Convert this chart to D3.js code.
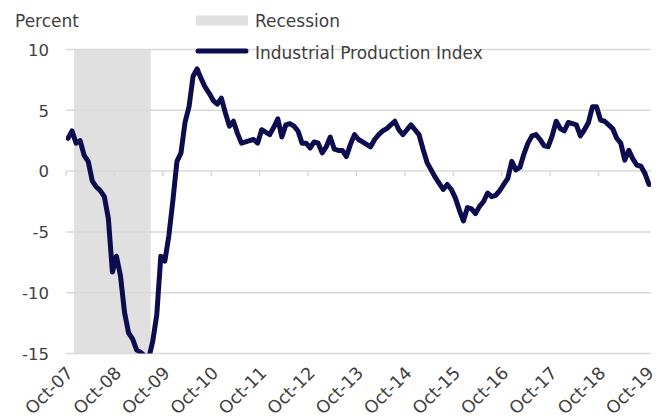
<!DOCTYPE html>
<html>
<head>
<meta charset="utf-8">
<script src="https://cdn.jsdelivr.net/npm/d3@7"></script>
<style>
  body { margin: 0; background: #fff; }
  svg text { font-family: "DejaVu Sans", sans-serif; fill: #404040; }
</style>
</head>
<body>
<svg id="chart" width="661" height="420"></svg>
<script>
// months Oct-07 .. Oct-19
var months = d3.timeMonth.range(new Date(2007, 9, 1), new Date(2019, 10, 1));

// industrial production, % change from a year ago
var ipValues = [
  2.7, 3.3, 2.3, 2.5, 1.3, 0.8, -0.8, -1.3, -1.6, -2.1, -3.9, -8.3,
  -7.0, -8.6, -11.6, -13.3, -13.8, -14.7, -14.9, -15.2, -15.4, -14.0, -11.8, -7.0,
  -7.4, -5.3, -2.4, 0.8, 1.5, 4.0, 5.3, 7.8, 8.4, 7.6, 6.9, 6.4,
  5.8, 5.5, 6.0, 4.8, 3.7, 4.1, 3.1, 2.3, 2.4, 2.5, 2.6, 2.3,
  3.4, 3.2, 3.0, 3.6, 4.3, 2.8, 3.8, 3.9, 3.7, 3.3, 2.3, 2.3,
  1.9, 2.4, 2.3, 1.5, 2.0, 2.8, 1.8, 1.7, 1.7, 1.2, 2.2, 3.0,
  2.6, 2.4, 2.2, 2.0, 2.6, 3.0, 3.3, 3.5, 3.8, 4.1, 3.4, 3.0,
  3.4, 3.8, 3.4, 3.0, 1.8, 0.7, 0.1, -0.5, -1.0, -1.5, -1.1, -1.5,
  -2.2, -3.2, -4.1, -3.0, -3.1, -3.5, -2.9, -2.5, -1.8, -2.1, -2.0, -1.6,
  -1.1, -0.6, 0.8, 0.1, 0.3, 1.4, 2.3, 2.9, 3.0, 2.6, 2.1, 2.0,
  2.9, 4.1, 3.5, 3.3, 4.0, 3.9, 3.8, 2.9, 3.4, 4.0, 5.3, 5.3,
  4.2, 4.1, 3.8, 3.5, 2.7, 2.3, 0.9, 1.7, 1.0, 0.5, 0.4, -0.2,
  -1.1
];

var recession = ["Dec-07", "Jun-09"];
var yTicks = [10, 5, 0, -5, -10, -15];
var xTickLabels = ["Oct-07", "Oct-08", "Oct-09", "Oct-10", "Oct-11", "Oct-12", "Oct-13",
  "Oct-14", "Oct-15", "Oct-16", "Oct-17", "Oct-18", "Oct-19"];

var fmt = d3.timeFormat("%b-%y");
var data = months.map(function(m, i) { return {label: fmt(m), value: ipValues[i]}; });

var svg = d3.select("#chart");
var plotLeft = 66, plotRight = 651, plotTop = 49.5, plotBottom = 353.5;

var x = d3.scaleBand()
  .domain(data.map(function(d) { return d.label; }))
  .range([plotLeft, plotRight])
  .padding(0);

var y = d3.scaleLinear()
  .domain([-15, 10])
  .range([plotBottom, plotTop]);

var cx = function(label) { return x(label) + x.bandwidth() / 2; };

svg.append("defs").append("clipPath").attr("id", "plot")
  .append("rect")
  .attr("x", plotLeft).attr("y", plotTop)
  .attr("width", plotRight - plotLeft).attr("height", plotBottom - plotTop);

// recession shading
svg.append("rect")
  .attr("x", x(recession[0]))
  .attr("y", y(10))
  .attr("width", x(recession[1]) + x.bandwidth() - x(recession[0]))
  .attr("height", y(-15) - y(10))
  .attr("fill", "#e0e0e0");

// gridlines
svg.append("g").selectAll("line")
  .data(yTicks)
  .enter().append("line")
  .attr("x1", plotLeft).attr("x2", plotRight)
  .attr("y1", function(d) { return y(d); })
  .attr("y2", function(d) { return y(d); })
  .attr("stroke", "#d9d9d9")
  .attr("stroke-width", 1.5);

// y labels
svg.append("g").selectAll("text")
  .data(yTicks)
  .enter().append("text")
  .attr("x", 49)
  .attr("y", function(d) { return y(d); })
  .attr("dy", "0.38em")
  .attr("text-anchor", "end")
  .style("font-size", "16.5px")
  .text(function(d) { return d; });

// category ticks on the zero line
svg.append("g").selectAll("line")
  .data(xTickLabels)
  .enter().append("line")
  .attr("x1", function(d) { return x(d); })
  .attr("x2", function(d) { return x(d); })
  .attr("y1", y(0))
  .attr("y2", y(0) + 5)
  .attr("stroke", "#d9d9d9")
  .attr("stroke-width", 1.5);

// x labels
svg.append("g").selectAll("text")
  .data(xTickLabels)
  .enter().append("text")
  .attr("transform", function(d) { return "translate(" + (cx(d) + 6) + "," + 374 + ") rotate(-45)"; })
  .attr("text-anchor", "end")
  .style("font-size", "17.5px")
  .text(function(d) { return d; });

// line
var line = d3.line()
  .x(function(d) { return cx(d.label); })
  .y(function(d) { return y(d.value); });

svg.append("path")
  .datum(data)
  .attr("clip-path", "url(#plot)")
  .attr("d", line)
  .attr("fill", "none")
  .attr("stroke", "#0c0c4e")
  .attr("stroke-width", 5)
  .attr("stroke-linejoin", "round")
  .attr("stroke-linecap", "round");

// axis title
svg.append("text")
  .attr("x", 15).attr("y", 26.5)
  .style("font-size", "17px")
  .text("Percent");

// legend
var legend = svg.append("g");
legend.append("rect")
  .attr("x", 196).attr("y", 15.5)
  .attr("width", 52).attr("height", 10)
  .attr("fill", "#e0e0e0");
legend.append("text")
  .attr("x", 255).attr("y", 26.5)
  .style("font-size", "17px")
  .text("Recession");
legend.append("line")
  .attr("x1", 198).attr("x2", 246)
  .attr("y1", 51).attr("y2", 51)
  .attr("stroke", "#0c0c4e")
  .attr("stroke-width", 5)
  .attr("stroke-linecap", "round");
legend.append("text")
  .attr("x", 255).attr("y", 59)
  .style("font-size", "17px")
  .text("Industrial Production Index");
</script>
</body>
</html>
